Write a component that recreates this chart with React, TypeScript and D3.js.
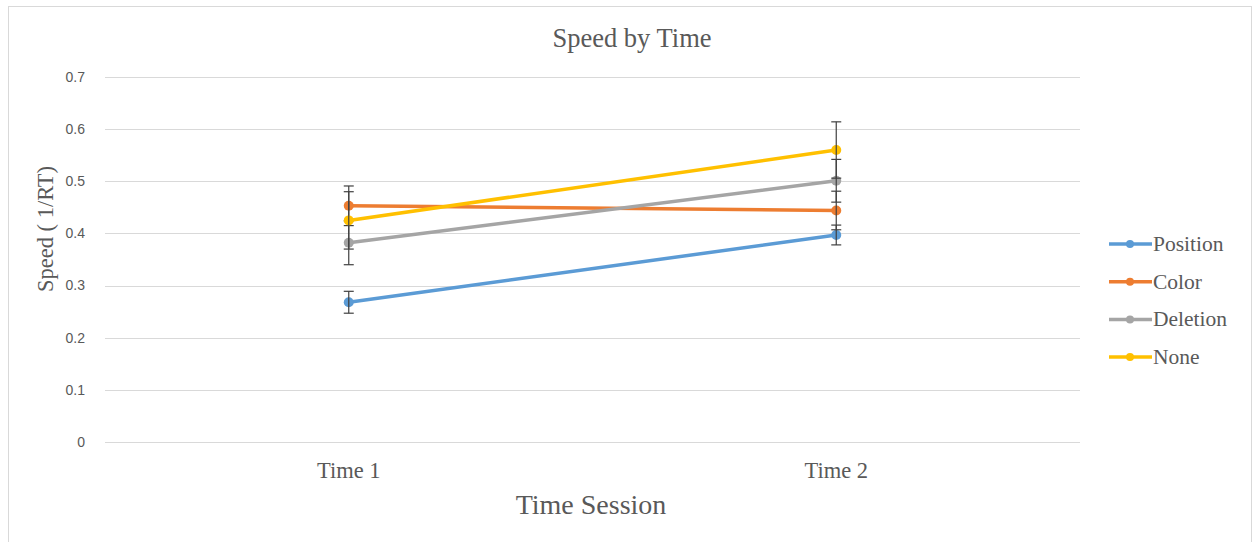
import React from "react";
import * as d3 from "d3";

const categories = ["Time 1", "Time 2"];
const seriesNames = ["Position", "Color", "Deletion", "None"];
const positionValues = [0.268, 0.397];
const colorValues = [0.453, 0.444];
const deletionValues = [0.382, 0.501];
const noneValues = [0.425, 0.56];
const positionErr = [0.021, 0.019];
const colorErr = [0.038, 0.037];
const deletionErr = [0.042, 0.041];
const noneErr = [0.055, 0.054];
const yTicks = [0, 0.1, 0.2, 0.3, 0.4, 0.5, 0.6, 0.7];
const seriesColors = ["#5B9BD5", "#ED7D31", "#A5A5A5", "#FFC000"];

const W = 1256;
const H = 542;
const plotLeft = 105;
const plotRight = 1080;
const plotTop = 77;
const plotBottom = 442;

export default function App() {
  const x = d3.scaleBand<string>().domain(categories).range([plotLeft, plotRight]);
  const y = d3.scaleLinear().domain([0, 0.7]).range([plotBottom, plotTop]);
  const cx = (c: string) => (x(c) as number) + x.bandwidth() / 2;

  const allValues = [positionValues, colorValues, deletionValues, noneValues];
  const allErr = [positionErr, colorErr, deletionErr, noneErr];

  const line = d3
    .line<number>()
    .x((_, i) => cx(categories[i]))
    .y((d) => y(d));

  const serif = "'Liberation Serif', 'Times New Roman', serif";
  const sans = "'Liberation Sans', Arial, sans-serif";
  const textColor = "#595959";

  return (
    <svg
      width={W}
      height={H}
      style={{ position: "absolute", left: 0, top: 0, background: "#fff" }}
    >
      <rect x={8.5} y={6.5} width={1243} height={545} fill="#fff" stroke="#d9d9d9" strokeWidth={1} />
      <text x={632} y={47} textAnchor="middle" fontFamily={serif} fontSize={26.5} fill={textColor}>
        Speed by Time
      </text>

      {yTicks.map((t) => (
        <g key={t}>
          <line
            x1={plotLeft}
            x2={plotRight}
            y1={Math.round(y(t)) + 0.5}
            y2={Math.round(y(t)) + 0.5}
            stroke="#d9d9d9"
            strokeWidth={1}
          />
          <text
            x={85}
            y={y(t)}
            dy="0.35em"
            textAnchor="end"
            fontFamily={sans}
            fontSize={14}
            fill={textColor}
          >
            {t === 0 ? "0" : d3.format(".1f")(t)}
          </text>
        </g>
      ))}

      {categories.map((c) => (
        <text
          key={c}
          x={cx(c)}
          y={478}
          textAnchor="middle"
          fontFamily={serif}
          fontSize={22.5}
          fill={textColor}
        >
          {c}
        </text>
      ))}

      <text x={591} y={514} textAnchor="middle" fontFamily={serif} fontSize={28} fill={textColor}>
        Time Session
      </text>
      <text
        transform={`translate(53,229) rotate(-90)`}
        textAnchor="middle"
        fontFamily={serif}
        fontSize={22.5}
        fill={textColor}
      >
        Speed ( 1/RT)
      </text>

      {allValues.map((vals, si) => (
        <g key={seriesNames[si]}>
          <path d={line(vals) || ""} fill="none" stroke={seriesColors[si]} strokeWidth={3.5} strokeLinecap="round" />
          {vals.map((v, i) => (
            <circle key={i} cx={cx(categories[i])} cy={y(v)} r={5} fill={seriesColors[si]} />
          ))}
          {vals.map((v, i) => {
            const xx = cx(categories[i]);
            const e = allErr[si][i];
            const y1 = y(v + e);
            const y2 = y(v - e);
            return (
              <g key={"e" + i} stroke="#404040" strokeWidth={1.2}>
                <line x1={xx} x2={xx} y1={y1} y2={y2} />
                <line x1={xx - 5} x2={xx + 5} y1={y1} y2={y1} />
                <line x1={xx - 5} x2={xx + 5} y1={y2} y2={y2} />
              </g>
            );
          })}
        </g>
      ))}

      {seriesNames.map((n, i) => {
        const ly = 244 + i * 37.7;
        return (
          <g key={n}>
            <line x1={1109} x2={1152} y1={ly} y2={ly} stroke={seriesColors[i]} strokeWidth={3.5} />
            <circle cx={1130} cy={ly} r={4} fill={seriesColors[i]} />
            <text x={1153} y={ly} dy="0.33em" fontFamily={serif} fontSize={21.5} fill={textColor}>
              {n}
            </text>
          </g>
        );
      })}
    </svg>
  );
}
